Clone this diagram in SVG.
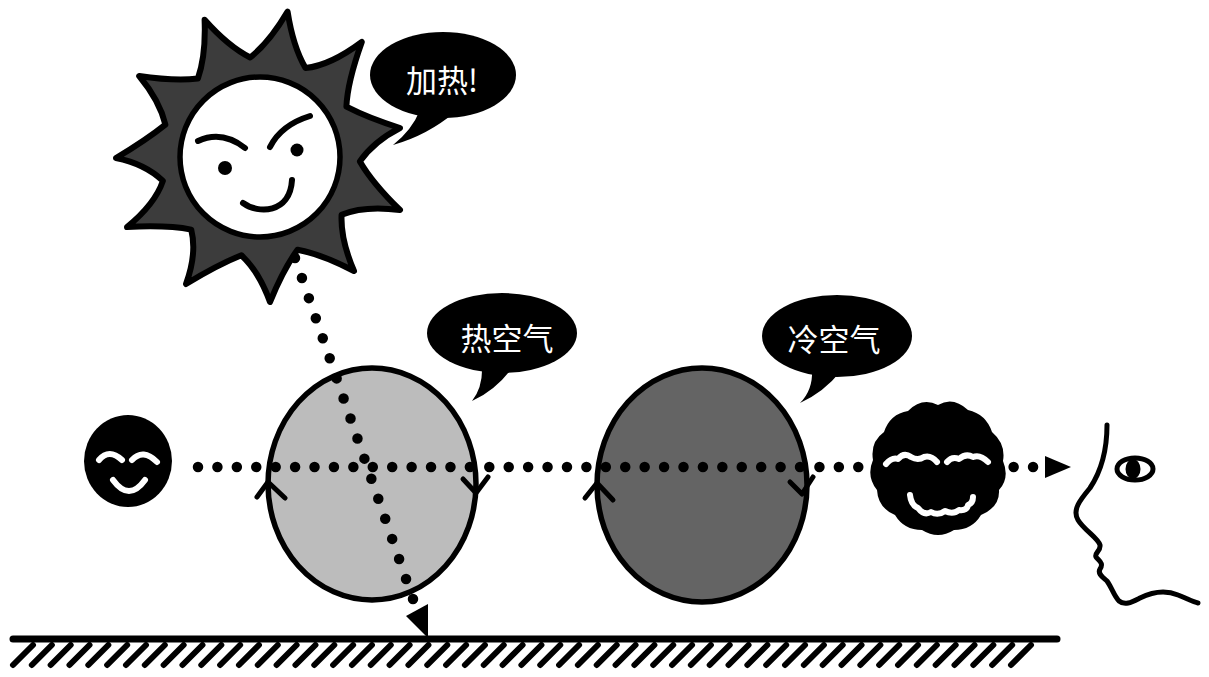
<svg xmlns="http://www.w3.org/2000/svg" width="1209" height="677" viewBox="0 0 1209 677">
  <style>
    .ink { stroke: #000; stroke-linecap: round; stroke-linejoin: round; fill: none; }
    .bubble { fill: #000; }
    .label { fill: #fff; font-family: "Noto Sans CJK SC", "Noto Sans", sans-serif; font-size: 31px; text-anchor: middle; dominant-baseline: central; }
    .dots { stroke: #000; stroke-width: 10.5; stroke-linecap: round; fill: none; }
    .chev { stroke: #000; stroke-width: 5; stroke-linecap: round; stroke-linejoin: round; fill: none; }
    .white-line { stroke: #fff; stroke-width: 6; stroke-linecap: round; stroke-linejoin: round; fill: none; }
  </style>

  <rect width="1209" height="677" fill="#fff"/>

  <!-- ground with hatching -->
  <g id="ground">
    <line x1="13" y1="639" x2="1057" y2="639" class="ink" stroke-width="7"/>
    <path class="ink" stroke-width="6" d="M13,665 l20,-20 m-1.17,20 l20,-20 m-1.17,20 l20,-20 m-1.17,20 l20,-20 m-1.17,20 l20,-20 m-1.17,20 l20,-20 m-1.17,20 l20,-20 m-1.17,20 l20,-20 m-1.17,20 l20,-20 m-1.17,20 l20,-20 m-1.17,20 l20,-20 m-1.17,20 l20,-20 m-1.17,20 l20,-20 m-1.17,20 l20,-20 m-1.17,20 l20,-20 m-1.17,20 l20,-20 m-1.17,20 l20,-20 m-1.17,20 l20,-20 m-1.17,20 l20,-20 m-1.17,20 l20,-20 m-1.17,20 l20,-20 m-1.17,20 l20,-20 m-1.17,20 l20,-20 m-1.17,20 l20,-20 m-1.17,20 l20,-20 m-1.17,20 l20,-20 m-1.17,20 l20,-20 m-1.17,20 l20,-20 m-1.17,20 l20,-20 m-1.17,20 l20,-20 m-1.17,20 l20,-20 m-1.17,20 l20,-20 m-1.17,20 l20,-20 m-1.17,20 l20,-20 m-1.17,20 l20,-20 m-1.17,20 l20,-20 m-1.17,20 l20,-20 m-1.17,20 l20,-20 m-1.17,20 l20,-20 m-1.17,20 l20,-20 m-1.17,20 l20,-20 m-1.17,20 l20,-20 m-1.17,20 l20,-20 m-1.17,20 l20,-20 m-1.17,20 l20,-20 m-1.17,20 l20,-20 m-1.17,20 l20,-20 m-1.17,20 l20,-20 m-1.17,20 l20,-20 m-1.17,20 l20,-20 m-1.17,20 l20,-20 m-1.17,20 l20,-20 m-1.17,20 l20,-20 m-1.17,20 l20,-20"/>
  </g>

  <!-- warm air parcel -->
  <g id="hot-air">
    <ellipse cx="372" cy="484" rx="104" ry="116" fill="#bcbcbc" stroke="#000" stroke-width="5.5"/>
    <path class="chev" d="M257,497 L268,482 L285,498"/>
    <path class="chev" d="M463,479 L476,493 L488,477"/>
  </g>

  <!-- cool air parcel -->
  <g id="cold-air">
    <ellipse cx="702" cy="485" rx="105" ry="117" fill="#646464" stroke="#000" stroke-width="5.5"/>
    <path class="chev" d="M585,498 L597,483 L613,500"/>
    <path class="chev" d="M790,482 L802,494 L813,477"/>
  </g>

  <!-- dotted light paths -->
  <g id="connectors">
    <line class="dots" x1="198" y1="467" x2="1036" y2="467" stroke-dasharray="0 19.42"/>
    <polygon points="1045,456 1071,467 1045,478" fill="#000"/>
    <line class="dots" x1="295" y1="258" x2="414" y2="602" stroke-dasharray="0 21.23"/>
    <polygon points="428,604 406,616 428,638" fill="#000"/>
  </g>

  <!-- sun -->
  <g id="sun">
    <path fill="#3c3c3c" stroke="#000" stroke-width="6" stroke-linejoin="round" d="M197.9,78.6 Q206.0,55.5 204.6,19.8 Q228.3,46.5 250.2,57.5 Q269.5,42.4 287.6,11.6 Q293.1,46.9 305.5,68.0 Q329.9,65.7 361.8,42 Q347.4,82.3 346.4,106.7 Q368.2,118.0 400,128 Q373.9,141.3 359.9,161.4 Q372.1,182.7 400.0,210.0 Q364.3,205.4 341.6,214.7 Q340.4,239.2 354,271 Q321.5,254.2 297.5,249.7 Q283.2,269.6 270,302 Q259.3,272.0 241.4,255.3 Q218.6,264.3 186,284 Q197.2,253.4 191.2,229.6 Q167.2,224.9 127,227 Q155.1,204.1 162.9,180.9 Q145.2,163.9 116,158 Q146.3,139.9 165.4,124.6 Q159.7,100.8 139.2,76 Q173.6,81.2 197.9,78.6 Z"/>
    <circle cx="260" cy="157" r="80" fill="#fff" stroke="#000" stroke-width="5.5"/>
    <path class="ink" stroke-width="6" d="M198,141 Q222,130 245,148"/>
    <path class="ink" stroke-width="6" d="M270,147 Q281,125 310,116"/>
    <circle cx="225" cy="168" r="7" fill="#000"/>
    <circle cx="297" cy="150" r="6.5" fill="#000"/>
    <path class="ink" stroke-width="6" d="M243,203 C258,214 290,214 292,180"/>
  </g>

  <!-- speech bubble: heating -->
  <g id="bubble-heat">
    <ellipse class="bubble" cx="443" cy="75" rx="73" ry="43"/>
    <path class="bubble" d="M420,110 Q412,130 393,145 Q428,135 455,112 Z"/>
    <text class="label" x="442" y="78">加热!</text>
  </g>

  <!-- speech bubble: warm air -->
  <g id="bubble-hot">
    <ellipse class="bubble" cx="502" cy="333" rx="75" ry="40"/>
    <path class="bubble" d="M482,366 Q483,387 472,401 Q496,390 512,368 Z"/>
    <text class="label" x="507" y="336">热空气</text>
  </g>

  <!-- speech bubble: cool air -->
  <g id="bubble-cold">
    <ellipse class="bubble" cx="837" cy="336" rx="75" ry="41"/>
    <path class="bubble" d="M812,370 Q813,390 800,403 Q824,392 840,372 Z"/>
    <text class="label" x="834" y="337">冷空气</text>
  </g>

  <!-- smiling object on the left -->
  <g id="object-face">
    <ellipse cx="128" cy="461" rx="44" ry="46" fill="#000"/>
    <path class="white-line" stroke-width="7" d="M99,460 Q109,448 122,460"/>
    <path class="white-line" stroke-width="7" d="M132,460 Q143,448 157,462"/>
    <path class="white-line" stroke-width="7" d="M113,480 Q129,502 145,480"/>
  </g>

  <!-- distorted image seen by the observer -->
  <g id="mirage-blob">
    <path fill="#000" d="M938,405 Q953,396 968,410 Q986,414 992,432 Q1006,444 1003,461 Q1010,478 999,490 Q1000,507 981,515 Q972,530 954,530 Q938,540 922,530 Q904,530 895,515 Q878,508 877,490 Q866,476 873,460 Q870,442 884,432 Q890,414 908,411 Q922,397 938,405 Z"/>
    <path class="white-line" d="M886,464 Q892,457 898,459 Q904,452 911,457 Q918,461 924,457 Q931,455 937,462"/>
    <path class="white-line" d="M947,462 Q952,456 959,459 Q966,453 973,457 Q980,454 988,462"/>
    <path class="white-line" d="M910,495 Q911,505 918,508 Q924,516 931,512 Q938,516 945,511 Q953,515 959,510 Q967,511 968,505 Q973,503 973,497"/>
  </g>

  <!-- observer in profile -->
  <g id="observer">
    <path class="ink" stroke-width="5" d="M1107,425 C1107,450 1102,470 1090,488 C1080,500 1072,510 1078,520 C1084,530 1098,538 1100,545 C1101,551 1094,553 1096,557 C1099,561 1104,563 1100,569 C1097,574 1104,578 1107,581 C1112,588 1114,596 1119,601 C1125,606 1132,602 1140,598 C1150,593 1164,589 1178,595 C1188,599 1193,602 1198,603"/>
    <ellipse cx="1135" cy="469" rx="18" ry="11" fill="#fff" stroke="#000" stroke-width="5"/>
    <ellipse cx="1133" cy="469" rx="7.5" ry="10" fill="#000"/>
  </g>
</svg>
